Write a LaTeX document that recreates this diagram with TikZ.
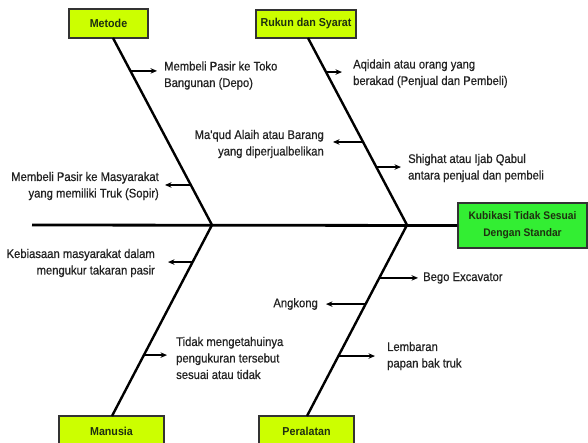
\documentclass[tikz,border=0pt]{standalone}
\usepackage{fontspec}
\setmainfont{Liberation Sans}[FakeStretch=0.93]
\newfontfamily\lblfont{Liberation Sans}[FakeStretch=0.9,FakeBold=0.5]
\usetikzlibrary{calc,arrows.meta}
\definecolor{causefill}{HTML}{CCFF00}
\definecolor{effectfill}{HTML}{33EE33}
\definecolor{boxline}{HTML}{333333}
\definecolor{boxtext}{HTML}{1E3010}
\definecolor{inktext}{HTML}{222222}
\begin{document}
\begin{tikzpicture}[x=1pt,y=-1pt,
  cause/.style={draw=boxline,line width=1.2pt,fill=causefill,
    font=\bfseries\fontsize{11.5}{13}\selectfont,text=boxtext,inner sep=0pt},
  effect/.style={draw=boxline,line width=1.2pt,fill=effectfill,
    font=\bfseries\fontsize{11}{17}\selectfont,text=boxtext,inner sep=0pt,align=center},
  spine/.style={line width=2.4pt,black},
  mainspine/.style={line width=2.8pt,black},
  bone/.style={line width=1.2pt,black,-{Stealth[length=6.5pt,width=5.5pt]}},
  lbl/.style={font=\lblfont\fontsize{12.5}{16.5}\selectfont,text=inktext,inner sep=0pt},
]
\clip (0,0) rectangle (588,442);
\fill[white] (0,0) rectangle (588,442);

% boxes
\node[cause,minimum width=79pt,minimum height=29pt] (metode) at (108.5,23.5) {Metode};
\node[cause,minimum width=100pt,minimum height=28pt] (rukun) at (306,24) {Rukun dan Syarat};
\node[effect,minimum width=129pt,minimum height=45pt] (effect) at (522.5,225.5) {Kubikasi Tidak Sesuai\\Dengan Standar};
\node[cause,minimum width=105pt,minimum height=30pt] (manusia) at (111.5,431) {Manusia};
\node[cause,minimum width=95pt,minimum height=30pt] (peralatan) at (306.5,431) {Peralatan};

% spine coordinates
\coordinate (tail) at (32,225);
\coordinate (j1) at (212,225);
\coordinate (j2) at (407,225);
\coordinate (ms) at (113,38);
\coordinate (rs) at (308,38);
\coordinate (mb) at (112,416);
\coordinate (pb) at (307,416);

\draw[mainspine] (tail) -- (effect.west);
\draw[spine] (ms) -- (j1);
\draw[spine] (rs) -- (j2);
\draw[spine] (j1) -- (mb);
\draw[spine] (j2) -- (pb);

% labels
\node[lbl,anchor=west,align=left] (m1) at (164,75.5) {Membeli Pasir ke Toko\\Bangunan (Depo)};
\node[lbl,anchor=east,align=right] (m2) at (159,186) {Membeli Pasir ke Masyarakat\\yang memiliki Truk (Sopir)};
\node[lbl,anchor=west,align=left] (r1) at (353,73.5) {Aqidain atau orang yang\\berakad (Penjual dan Pembeli)};
\node[lbl,anchor=east,align=right] (r2) at (324,144) {Ma'qud Alaih atau Barang\\yang diperjualbelikan};
\node[lbl,anchor=west,align=left] (r3) at (408,168) {Shighat atau Ijab Qabul\\antara penjual dan pembeli};
\node[lbl,anchor=east,align=right] (u1) at (155,263) {Kebiasaan masyarakat dalam\\mengukur takaran pasir};
\node[lbl,anchor=west,align=left] (u2) at (176,358) {Tidak mengetahuinya\\pengukuran tersebut\\sesuai atau tidak};
\node[lbl,anchor=west] (p1) at (423,278) {Bego Excavator};
\node[lbl,anchor=east] (p2) at (318,304) {Angkong};
\node[lbl,anchor=west,align=left] (p3) at (387,356) {Lembaran\\papan bak truk};

% branch points
\coordinate (cm1) at ($(ms)!0.176!(j1)$);
\coordinate (cm2) at ($(ms)!0.786!(j1)$);
\coordinate (cr1) at ($(rs)!0.182!(j2)$);
\coordinate (cr2) at ($(rs)!0.556!(j2)$);
\coordinate (cr3) at ($(rs)!0.690!(j2)$);
\coordinate (cu1) at ($(j1)!0.194!(mb)$);
\coordinate (cu2) at ($(j1)!0.681!(mb)$);
\coordinate (cp1) at ($(j2)!0.277!(pb)$);
\coordinate (cp2) at ($(j2)!0.414!(pb)$);
\coordinate (cp3) at ($(j2)!0.686!(pb)$);

% branches
\draw[bone] (cm1) -- ($(cm1 -| m1.west)+(-7,0)$);
\draw[bone] (cm2) -- ($(cm2 -| m2.east)+(6,0)$);
\draw[bone] (cr1) -- ($(cr1 -| r1.west)+(-11,0)$);
\draw[bone] (cr2) -- ($(cr2 -| r2.east)+(9,0)$);
\draw[bone] (cr3) -- ($(cr3 -| r3.west)+(-7,0)$);
\draw[bone] (cu1) -- ($(cu1 -| u1.east)+(13,0)$);
\draw[bone] (cu2) -- ($(cu2 -| u2.west)+(-9,0)$);
\draw[bone] (cp1) -- ($(cp1 -| p1.west)+(-5,0)$);
\draw[bone] (cp2) -- ($(cp2 -| p2.east)+(8,0)$);
\draw[bone] (cp3) -- ($(cp3 -| p3.west)+(-12,0)$);
\end{tikzpicture}
\end{document}
